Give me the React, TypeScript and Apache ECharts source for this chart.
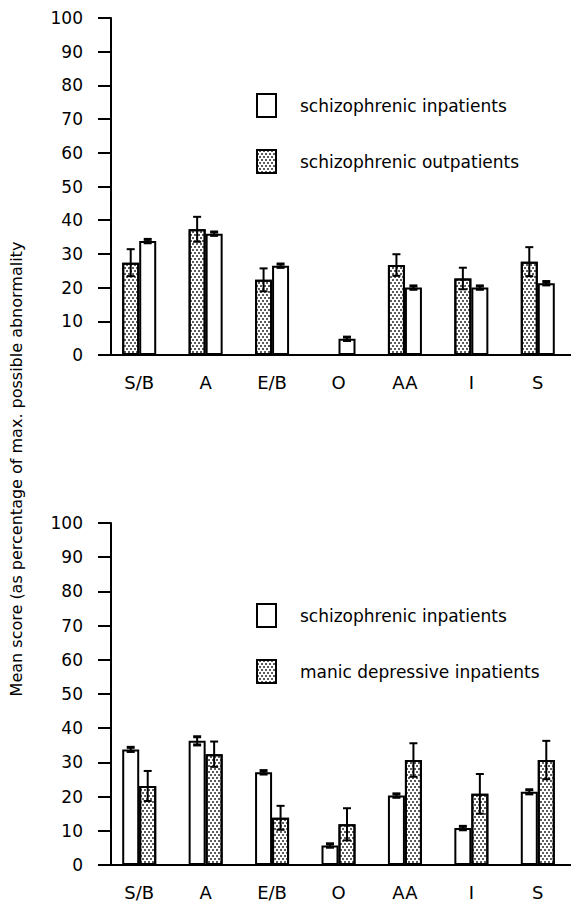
import React, { useEffect, useRef } from "react";
import * as echarts from "echarts";

const categories = ["S/B", "A", "E/B", "O", "AA", "I", "S"];
const yTicks = [0, 10, 20, 30, 40, 50, 60, 70, 80, 90, 100];

// Top panel
const topInpatients = [33.8, 36.0, 26.5, 4.8, 20.0, 20.0, 21.3];
const topInpatientsErr = [0.5, 0.5, 0.5, 0.5, 0.5, 0.5, 0.5];
const topOutpatients = [27.4, 37.3, 22.3, null, 26.7, 22.7, 27.7];
const topOutpatientsErr = [4.0, 3.7, 3.4, null, 3.2, 3.2, 4.3];

// Bottom panel
const bottomInpatients = [33.8, 36.3, 27.1, 5.7, 20.3, 10.8, 21.4];
const bottomInpatientsErr = [0.6, 1.2, 0.5, 0.5, 0.5, 0.5, 0.6];
const bottomManic = [23.1, 32.4, 13.8, 11.9, 30.7, 20.8, 30.7];
const bottomManicErr = [4.4, 3.7, 3.5, 4.7, 4.9, 5.8, 5.6];

const NAME_IN = "schizophrenic inpatients";
const NAME_OUT = "schizophrenic outpatients";
const NAME_MANIC = "manic depressive inpatients";
const yTitle = "Mean score (as percentage of max. possible abnormality";

const FONT = "DejaVu Sans";
const BAR_W = 17;

const dotted = {
  symbol: "circle",
  symbolSize: 0.85,
  symbolKeepAspect: true,
  color: "#111",
  dashArrayX: [[2, 2], [0, 2, 2, 0]],
  dashArrayY: [2, 1],
  rotation: 0,
};

function errData(vals: (number | null)[], errs: (number | null)[], side: number) {
  return vals
    .map((v, i) => (v == null ? null : [i, v, errs[i], side]))
    .filter((d) => d !== null);
}

function errSeries(xi: number, data: any[]) {
  return {
    type: "custom",
    xAxisIndex: xi,
    yAxisIndex: xi,
    z: 5,
    silent: true,
    data,
    renderItem: (params: any, api: any) => {
      const idx = api.value(0);
      const v = api.value(1);
      const e = api.value(2);
      const side = api.value(3);
      const cx = api.coord([idx, v])[0] + side * (BAR_W / 2);
      const yT = api.coord([idx, v + e])[1];
      const yB = api.coord([idx, v - e])[1];
      const small = e < 1.5;
      const capW = 4;
      const lw = small ? 3 : 2;
      return {
        type: "group",
        children: [
          { type: "line", shape: { x1: cx, y1: yT, x2: cx, y2: yB }, style: { stroke: "#000", lineWidth: 2 } },
          { type: "line", shape: { x1: cx - capW, y1: yT, x2: cx + capW, y2: yT }, style: { stroke: "#000", lineWidth: lw } },
          { type: "line", shape: { x1: cx - capW, y1: yB, x2: cx + capW, y2: yB }, style: { stroke: "#000", lineWidth: lw } },
        ],
      };
    },
  };
}

export default function App() {
  const ref = useRef<HTMLDivElement>(null);
  useEffect(() => {
    const chart = echarts.init(ref.current!, null, { renderer: "svg" });
    const grids = [
      { left: 106, top: 18, width: 476, height: 337 },
      { left: 106, top: 523, width: 476, height: 342 },
    ];
    const xAxis = [0, 1].map((i) => ({
      type: "category",
      gridIndex: i,
      data: categories,
      axisLine: { lineStyle: { color: "#000", width: 2 } },
      axisTick: { show: false },
      axisLabel: { color: "#000", fontFamily: FONT, fontSize: 18, margin: 18 },
    }));
    const yAxis = [0, 1].map((i) => ({
      type: "value",
      gridIndex: i,
      min: 0,
      max: 100,
      interval: 10,
      offset: -5,
      splitLine: { show: false },
      axisLine: { show: true, lineStyle: { color: "#000", width: 2 } },
      axisTick: { show: true, length: 13, lineStyle: { color: "#000", width: 2 } },
      axisLabel: {
        color: "#000",
        fontFamily: FONT,
        fontSize: 17,
        margin: 28,
        formatter: (v: number) => (yTicks.includes(v) ? String(v) : ""),
      },
    }));
    const barBase = {
      type: "bar",
      barWidth: BAR_W,
      barGap: "0%",
    };
    const whiteStyle = { color: "#fff", borderColor: "#000", borderWidth: 2 };
    const dotStyle = { color: "#fff", borderColor: "#000", borderWidth: 2, decal: dotted };
    const legendBase = {
      orient: "vertical",
      left: 256,
      padding: 0,
      itemWidth: 19,
      itemHeight: 23,
      itemGap: 31,
      icon: "rect",
      selectedMode: false,
      textStyle: { color: "#000", fontFamily: FONT, fontSize: 17, padding: [0, 0, 0, 19] },
    };
    chart.setOption({
      animation: false,
      backgroundColor: "#fff",
      grid: grids,
      xAxis,
      yAxis,
      legend: [
        { ...legendBase, top: 93, data: [NAME_IN, NAME_OUT] },
        { ...legendBase, top: 603, data: [NAME_IN, NAME_MANIC] },
      ],
      graphic: [
        {
          type: "text",
          x: 16,
          y: 469,
          rotation: Math.PI / 2,
          style: {
            text: yTitle,
            fill: "#000",
            font: `16px "${FONT}"`,
            align: "center",
            verticalAlign: "middle",
          },
        },
      ],
      series: [
        { ...barBase, name: NAME_OUT, xAxisIndex: 0, yAxisIndex: 0, data: topOutpatients, itemStyle: dotStyle },
        { ...barBase, name: NAME_IN, xAxisIndex: 0, yAxisIndex: 0, data: topInpatients, itemStyle: whiteStyle },
        { ...barBase, name: NAME_IN, xAxisIndex: 1, yAxisIndex: 1, data: bottomInpatients, itemStyle: whiteStyle },
        { ...barBase, name: NAME_MANIC, xAxisIndex: 1, yAxisIndex: 1, data: bottomManic, itemStyle: dotStyle },
        errSeries(0, [
          ...errData(topOutpatients, topOutpatientsErr, -1),
          ...errData(topInpatients, topInpatientsErr, 1),
        ]),
        errSeries(1, [
          ...errData(bottomInpatients, bottomInpatientsErr, -1),
          ...errData(bottomManic, bottomManicErr, 1),
        ]),
      ],
    });
    return () => chart.dispose();
  }, []);
  return (
    <div
      ref={ref}
      style={{ position: "absolute", left: 0, top: 0, width: 571, height: 903 }}
    />
  );
}
